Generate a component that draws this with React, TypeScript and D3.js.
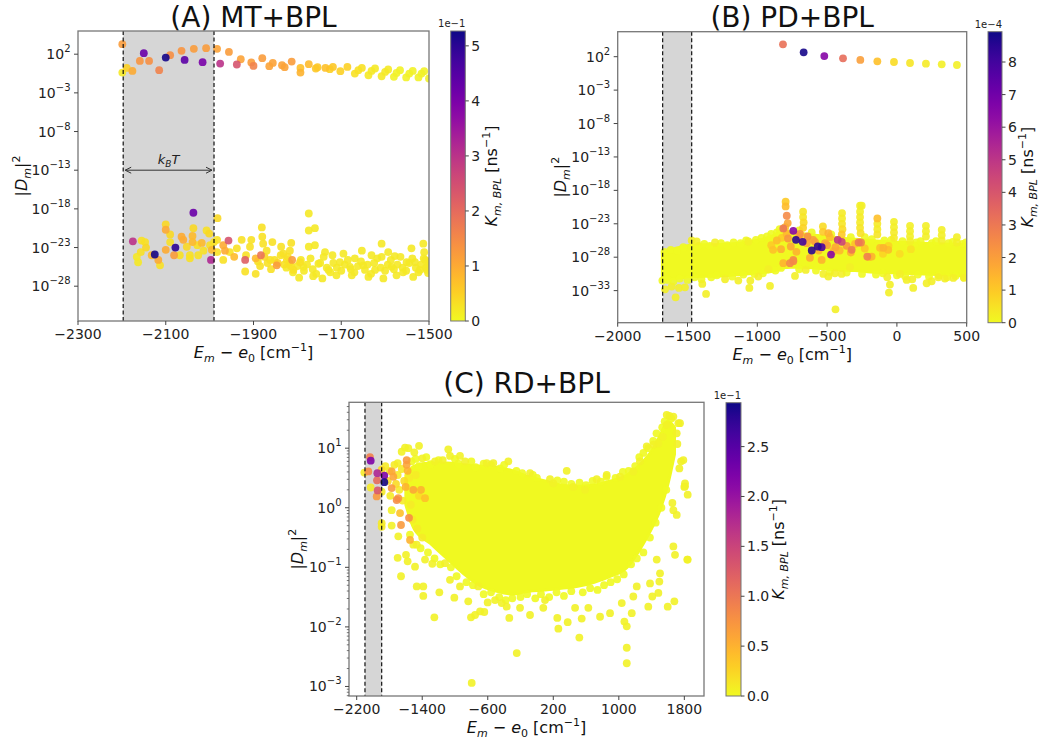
import React from 'react';
import * as d3 from 'd3';

const FONT = 'DejaVu Sans, Verdana, sans-serif';

// every point: [E_m - e0 (cm^-1), log10 |D_m|^2, K_m,BPL in colorbar units]

// (A) MT+BPL, K in 1e-1 ns^-1
const aUpper = [
  [-2199, 3.29, 1.2], [-2199, -0.37, 0.2], [-2189, 0.23, 0.5], [-2176, -0.16, 1.0], [-2150, 2.13, 4.2],
  [-2159, 1.13, 1.3], [-2138, 1.13, 1.4], [-2115, -0.07, 1.6], [-2100, 1.57, 5.2], [-2090, 1.87, 1.4],
  [-2064, 2.43, 1.3], [-2057, 1.26, 4.4], [-2036, 2.69, 1.2], [-2008, 2.78, 1.2], [-2016, 0.97, 4.0],
  [-1983, 2.69, 1.1], [-1976, 0.79, 3.0], [-1956, 2.3, 1.2], [-1938, 0.67, 2.4], [-1929, 1.35, 1.1],
  [-1905, 0.93, 1.2], [-1900, 0.49, 1.6], [-1880, 1.48, 1.2], [-1864, 0.45, 1.1], [-1856, 0.87, 1.1],
  [-1835, 0.58, 1.1], [-1829, 0.32, 1.1], [-1813, 1.05, 1.2], [-1793, 0.23, 0.7], [-1793, -0.37, 0.9],
  [-1774, 0.71, 0.8], [-1758, 0.15, 0.6], [-1754, 0.32, 0.6], [-1736, 0.23, 0.7], [-1726, 0.06, 0.5],
  [-1719, 0.36, 0.6], [-1702, -0.2, 0.5], [-1686, 0.36, 0.5], [-1669, -0.5, 0.3], [-1661, -0.07, 0.3],
  [-1653, 0.23, 0.3], [-1638, -0.72, 0.2], [-1631, -0.16, 0.2], [-1623, 0.15, 0.2], [-1608, -0.85, 0.2],
  [-1600, -0.29, 0.2], [-1593, 0.02, 0.2], [-1580, -0.93, 0.1], [-1574, -0.42, 0.1], [-1566, -0.07, 0.1],
  [-1552, -1.0, 0.1], [-1545, -0.5, 0.1], [-1537, -0.16, 0.1], [-1524, -1.0, 0.1], [-1517, -0.5, 0.1],
  [-1511, -0.2, 0.1], [-1500, -1.14, 0.1],
];

const aLower = [
  [-2175, -22.2, 3.0], [-2166, -24.2, 0.2], [-2163, -24.9, 0.2], [-2155, -22.1, 0.3], [-2147, -22.3, 0.3],
  [-2157, -23.6, 0.3], [-2145, -23.0, 0.4], [-2125, -23.9, 5.2], [-2132, -24.0, 0.8], [-2117, -24.6, 1.0],
  [-2113, -25.3, 0.3], [-2100, -20.0, 0.4], [-2100, -20.7, 1.0], [-2090, -21.3, 0.4], [-2090, -22.3, 0.3],
  [-2100, -23.3, 1.0], [-2081, -24.0, 1.2], [-2078, -23.0, 5.0], [-2068, -24.0, 0.3], [-2064, -21.6, 1.0],
  [-2060, -22.0, 1.0], [-2052, -22.9, 0.4], [-2045, -24.0, 0.3], [-2045, -24.4, 0.3], [-2037, -18.5, 4.2],
  [-2037, -20.5, 0.4], [-2039, -21.5, 0.8], [-2039, -22.3, 0.8], [-2028, -22.7, 0.3], [-2026, -24.0, 0.3],
  [-2018, -22.4, 0.8], [-2014, -23.4, 0.3], [-2007, -20.8, 0.3], [-2001, -21.2, 0.4], [-1999, -22.7, 0.3],
  [-1995, -23.3, 0.8], [-1997, -24.6, 3.2], [-1990, -22.3, 0.3],
  [-1982, -19.2, 0.4], [-1983, -22.0, 0.3], [-1983, -23.6, 0.3], [-1969, -22.7, 1.0], [-1965, -23.4, 1.0],
  [-1957, -22.1, 2.4], [-1969, -24.6, 0.3], [-1954, -23.6, 0.3], [-1944, -24.2, 0.8], [-1938, -23.1, 0.3],
  [-1927, -22.0, 0.3], [-1919, -24.6, 2.2], [-1919, -26.1, 0.3], [-1917, -24.0, 0.3], [-1908, -22.9, 0.3],
  [-1905, -22.0, 0.3], [-1895, -26.4, 0.3], [-1895, -24.4, 0.8], [-1883, -24.0, 1.8], [-1881, -20.4, 0.3],
  [-1880, -21.6, 0.3], [-1878, -22.5, 0.3], [-1870, -23.4, 0.3], [-1862, -24.6, 0.3], [-1857, -22.3, 0.3],
  [-1847, -25.3, 1.2], [-1837, -22.9, 0.3], [-1832, -23.8, 0.3], [-1824, -24.6, 0.3], [-1817, -23.4, 0.3],
  [-1814, -22.4, 0.3], [-1812, -24.6, 1.2], [-1809, -25.9, 0.3], [-1796, -26.9, 0.2], [-1794, -24.9, 0.3],
  [-1786, -25.5, 0.2], [-1774, -18.6, 0.2], [-1774, -20.8, 0.2], [-1774, -22.9, 0.2], [-1760, -20.5, 0.2],
  [-1760, -22.7, 0.2], [-1764, -26.7, 0.2], [-1752, -25.1, 0.2], [-1743, -27.0, 0.2], [-1737, -23.6, 0.2],
  [-1729, -25.9, 0.2], [-1720, -24.0, 0.2], [-1711, -26.6, 0.2], [-1703, -24.9, 0.2], [-1695, -23.8, 0.2],
  [-1680, -25.5, 0.2], [-1676, -26.6, 0.2], [-1669, -24.4, 0.2], [-1653, -23.4, 0.2], [-1650, -25.3, 0.2],
  [-1638, -26.8, 0.2], [-1631, -24.0, 0.2], [-1623, -25.9, 0.2], [-1608, -22.5, 0.2], [-1608, -24.2, 0.2],
  [-1604, -27.0, 0.2], [-1593, -23.6, 0.2], [-1585, -25.5, 0.2], [-1578, -24.1, 0.2], [-1574, -26.6, 0.2],
  [-1559, -26.2, 0.2], [-1551, -24.9, 0.2], [-1540, -23.1, 0.2], [-1536, -26.8, 0.2], [-1532, -24.9, 0.2],
  [-1521, -25.9, 0.2], [-1513, -22.5, 0.2], [-1511, -23.6, 0.2], [-1509, -24.6, 0.2], [-1505, -25.9, 0.2],
  [-1502, -25.3, 0.2],
];

const aLowerDense = [
  [-1890, -24.8, 0.3], [-1885, -25.4, 0.3], [-1875, -24.2, 0.4], [-1868, -25.0, 0.3], [-1860, -25.8, 0.3],
  [-1852, -24.6, 0.3], [-1845, -25.0, 0.5], [-1838, -24.0, 0.3], [-1830, -25.2, 0.3], [-1822, -24.2, 0.3],
  [-1815, -25.4, 0.3], [-1825, -25.6, 0.2], [-1818, -25.0, 0.2], [-1810, -26.2, 0.2], [-1800, -25.4, 0.2],
  [-1792, -24.6, 0.2], [-1785, -26.0, 0.2], [-1778, -25.2, 0.2], [-1770, -24.4, 0.2], [-1765, -25.8, 0.2],
  [-1757, -26.4, 0.2], [-1748, -25.0, 0.2], [-1740, -24.2, 0.2], [-1733, -25.6, 0.2], [-1725, -26.2, 0.2],
  [-1718, -25.0, 0.2], [-1710, -25.6, 0.2], [-1700, -26.0, 0.2], [-1692, -25.2, 0.2], [-1685, -24.6, 0.2],
  [-1678, -25.8, 0.2], [-1670, -26.2, 0.2], [-1662, -25.4, 0.2], [-1655, -24.8, 0.2], [-1646, -25.9, 0.2],
  [-1640, -25.2, 0.2], [-1632, -26.4, 0.2], [-1625, -25.0, 0.2], [-1618, -24.4, 0.2], [-1610, -25.6, 0.2],
  [-1600, -26.0, 0.2], [-1594, -25.2, 0.2], [-1587, -24.6, 0.2], [-1580, -25.8, 0.2], [-1572, -25.2, 0.2],
  [-1565, -24.2, 0.2], [-1560, -25.6, 0.2], [-1552, -26.0, 0.2], [-1545, -25.0, 0.2], [-1538, -24.4, 0.2],
  [-1530, -25.6, 0.2], [-1524, -26.2, 0.2], [-1518, -25.2, 0.2], [-1512, -24.4, 0.2], [-1507, -25.6, 0.2],
  [-1502, -26.3, 0.2], [-1502, -24.8, 0.2],
];

// (B) PD+BPL, K in 1e-4 ns^-1
const bUpper = [
  [-816, 3.85, 3.2], [-668, 2.66, 8.8], [-520, 2.1, 6.5], [-386, 1.76, 3.3], [-262, 1.51, 2.0],
  [-140, 1.31, 1.2], [-21, 1.21, 0.6], [94, 1.06, 0.4], [208, 0.95, 0.3], [321, 0.86, 0.2], [430, 0.76, 0.2],
];

// dense band of the lower manifold: envelope
const bBandX = [-1680, -1600, -1470, -1270, -1030, -890, -815, -760, -670, -550, -430, -300, -190, 50, 285, 500];
const bBandHi = [-27.4, -26.8, -26.2, -26.1, -25.6, -24.8, -24.0, -24.2, -24.5, -24.8, -25.1, -25.3, -25.5, -25.8, -26.0, -26.1];
const bBandLo = [-31.3, -31.2, -30.9, -30.8, -30.4, -30.1, -29.6, -29.5, -29.5, -29.7, -29.9, -30.0, -30.2, -30.4, -30.6, -30.8];

const bLower = [
  [-742, -24.05, 6.5], [-723, -25.4, 8.5], [-675, -25.7, 8.0], [-610, -27.0, 8.5], [-567, -26.4, 8.5],
  [-539, -26.5, 7.8], [-472, -27.6, 6.5], [-424, -25.4, 5.0], [-395, -25.7, 4.5], [-324, -26.9, 3.0],
  [-257, -25.8, 2.8], [-694, -24.5, 2.2], [-646, -25.9, 2.0], [-587, -25.7, 2.0], [-742, -28.4, 2.5],
  [-515, -25.9, 1.8], [-491, -24.4, 1.5], [-181, -27.9, 1.5], [-121, -26.6, 1.2], [-62, -26.9, 1.3],
  [-455, -27.1, 1.4], [-539, -28.4, 1.5], [-623, -28.1, 1.7],
  [-797, -19.7, 1.0], [-797, -20.4, 1.3], [-789, -21.8, 2.5], [-782, -22.9, 1.8], [-800, -23.5, 1.2],
  [-790, -24.5, 1.4], [-742, -28.6, 2.5], [-814, -28.9, 1.5], [-825, -25.1, 1.0], [-887, -26.9, 1.2],
  [-766, -28.9, 2.6], [-814, -23.7, 3.0], [-274, -25.8, 3.0], [-212, -27.9, 2.8], [-140, -22.2, 1.2],
  [-97, -26.6, 1.5],
  [-900, -26.2, 1.0], [-860, -25.5, 1.3], [-830, -26.8, 1.6], [-780, -25.2, 2.2], [-760, -26.4, 1.8],
  [-720, -27.2, 1.5], [-700, -24.8, 1.9], [-640, -24.9, 2.4], [-600, -25.4, 2.0], [-560, -27.0, 1.6],
  [-500, -26.2, 2.0], [-480, -25.0, 1.3], [-440, -26.5, 1.8], [-410, -27.0, 1.4], [-360, -26.3, 2.2],
  [-330, -27.3, 1.6], [-300, -26.0, 1.2], [-230, -26.7, 1.1], [-200, -28.0, 1.0], [-100, -27.5, 0.8],
  [-60, -26.3, 0.8], [20, -27.5, 0.6], [100, -26.8, 0.5],
  // vibronic spikes
  [-672, -21.2, 0.4], [-672, -22.0, 0.4], [-668, -22.8, 0.6], [-672, -23.6, 0.8],
  [-530, -23.4, 0.6], [-530, -24.2, 1.0],
  [-393, -21.4, 0.3], [-393, -22.2, 0.3], [-393, -23.0, 0.4], [-390, -23.8, 0.6], [-395, -24.6, 1.0],
  [-264, -20.3, 0.2], [-264, -21.2, 0.2], [-264, -22.0, 0.3], [-264, -22.8, 0.3], [-264, -23.6, 0.4], [-260, -24.4, 0.5],
  [-140, -23.0, 0.3], [-140, -23.8, 0.3], [-140, -24.6, 0.4],
  [-21, -22.7, 0.2], [-21, -23.5, 0.2], [-21, -24.3, 0.3], [-21, -25.1, 0.3],
  [94, -23.3, 0.2], [94, -24.1, 0.2], [94, -24.9, 0.2], [94, -25.6, 0.2],
  [208, -23.3, 0.2], [208, -24.1, 0.2], [208, -24.9, 0.2],
  [321, -23.9, 0.2], [321, -24.7, 0.2], [321, -25.5, 0.2],
  [430, -25.0, 0.2], [430, -25.8, 0.2],
  // outliers around the band
  [-1470, -25.5, 0.2], [-1434, -25.65, 0.2], [-1303, -25.8, 0.2], [-1064, -25.65, 0.2],
  [-1661, -32.8, 0.2], [-1613, -32.4, 0.2], [-1585, -34.0, 0.2], [-1561, -32.6, 0.2], [-1518, -32.5, 0.2],
  [-1394, -32.0, 0.2], [-1367, -33.5, 0.2], [-1231, -31.3, 0.2], [-1136, -31.5, 0.2], [-1057, -32.6, 0.2],
  [-1050, -31.5, 0.2], [-993, -30.9, 0.2], [-921, -29.8, 0.2], [-909, -32.3, 0.2], [-730, -30.8, 0.2],
  [-653, -29.9, 0.2], [-527, -30.5, 0.2], [-491, -30.9, 0.2], [-444, -30.4, 0.2], [-396, -30.5, 0.2],
  [-336, -29.5, 0.2], [-69, -31.0, 0.2], [-50, -32.1, 0.2], [-57, -33.3, 0.2], [22, -30.5, 0.2],
  [70, -31.4, 0.2], [117, -32.6, 0.2], [110, -31.3, 0.2], [213, -31.9, 0.2], [249, -31.6, 0.2],
  [297, -31.0, 0.2], [344, -31.2, 0.2], [404, -31.1, 0.2], [481, -31.1, 0.2], [-440, -35.8, 0.2],
  [-252, -20.3, 0.2],
];

// bumps along the edges of the band
const bBandEdge = [
  [-1665, -27.2], [-1620, -26.9], [-1575, -27.0], [-1530, -26.5], [-1420, -26.3], [-1380, -26.0],
  [-1340, -26.3], [-1260, -25.9], [-1215, -26.2], [-1170, -25.8], [-1120, -25.9], [-1080, -25.5],
  [-1010, -25.4], [-970, -25.1], [-930, -24.9], [-900, -24.5], [-860, -24.3], [-840, -23.8],
  [-700, -24.0], [-610, -24.3], [-470, -24.6], [-330, -25.0], [-230, -25.0], [-180, -25.3],
  [-90, -25.5], [-40, -25.4], [40, -25.6], [140, -25.8], [170, -25.6], [250, -25.9], [280, -25.6],
  [370, -25.9], [400, -25.7], [470, -26.0], [495, -25.8],
  [-1680, -31.5], [-1640, -31.4], [-1600, -31.6], [-1555, -31.2], [-1500, -31.4], [-1450, -31.0],
  [-1400, -31.3], [-1330, -31.0], [-1290, -30.7], [-1180, -30.9], [-1100, -30.6], [-1020, -30.5],
  [-960, -30.4], [-870, -30.0], [-830, -29.6], [-700, -29.8], [-580, -30.0], [-480, -30.2],
  [-360, -30.3], [-250, -30.5], [-150, -30.6], [-100, -30.4], [0, -30.7], [60, -30.9], [150, -30.6],
  [230, -30.9], [300, -30.7], [360, -31.0], [420, -30.8], [480, -31.0],
];

// (C) RD+BPL, K in 1e-1 ns^-1
const cCloudX = [-1600, -1500, -1300, -1100, -900, -700, -500, -300, -100, 100, 300, 500, 700, 900, 1100, 1300, 1400, 1500, 1600, 1680];
const cCloudHi = [0.55, 0.7, 0.75, 0.75, 0.72, 0.7, 0.68, 0.62, 0.52, 0.45, 0.38, 0.36, 0.38, 0.45, 0.55, 0.78, 0.95, 1.2, 1.45, 1.35];
const cCloudLo = [0.05, -0.35, -0.6, -0.85, -1.1, -1.3, -1.4, -1.45, -1.4, -1.38, -1.35, -1.32, -1.25, -1.15, -1.0, -0.6, -0.35, -0.05, 0.4, 0.9];

const cPoints = [
  [-2038, 0.85, 0.9], [-2029, 0.79, 2.2], [-2107, 0.59, 0.1], [-2058, 0.61, 0.8], [-1948, 0.58, 1.8],
  [-1952, 0.46, 1.1], [-1944, 0.29, 1.3], [-1956, 0.19, 0.7], [-2029, 0.34, 0.1], [-1863, 0.54, 2.2],
  [-1863, 0.43, 2.9], [-1895, 0.64, 0.2], [-1895, 0.27, 0.1], [-1895, -0.26, 0.1], [-1895, -0.32, 0.1],
  [-1773, 0.61, 0.6], [-1753, 0.52, 0.6], [-1773, 0.33, 0.7], [-1712, 0.13, 0.8], [-1692, 0.16, 0.7],
  [-1590, 0.8, 0.7], [-1590, 0.72, 0.6], [-1578, 0.62, 0.5], [-1602, 0.35, 0.5], [-1509, 0.3, 0.6],
  [-1415, 0.3, 0.5], [-1366, 0.16, 0.4], [-1561, -0.17, 0.8], [-1659, -0.29, 0.7], [-1549, -0.54, 0.5],
  [-1671, -0.09, 0.4],
  [-1850, 0.7, 0.1], [-1820, 0.45, 0.2], [-1800, 0.62, 0.1], [-1790, 0.2, 0.1], [-1740, 0.72, 0.1],
  [-1720, 0.4, 0.2], [-1700, 0.55, 0.1], [-1680, 0.3, 0.1], [-1650, 0.65, 0.1], [-1640, 0.12, 0.1],
  [-1620, 0.45, 0.2], [-1560, 0.5, 0.1], [-1540, 0.05, 0.1], [-1520, -0.2, 0.1], [-1480, 0.55, 0.1],
  [-1460, -0.35, 0.1], [-1440, 0.2, 0.2], [-1400, -0.5, 0.1],
  [-1610, 1.01, 0.05], [-1570, 1.0, 0.05], [-1439, 1.04, 0.05], [-1497, 0.93, 0.05], [-1651, 0.94, 0.05],
  [-1700, 0.75, 0.05], [-1399, 0.83, 0.05], [-1244, 0.78, 0.05], [-1150, 0.8, 0.05], [-1082, 0.98, 0.05],
  [-1061, 0.87, 0.05], [-939, 0.87, 0.05], [-877, 0.78, 0.05], [-613, 0.75, 0.05], [-532, 0.75, 0.05],
  [-349, 0.78, 0.05], [-1773, -0.04, 0.05], [-1773, -0.3, 0.05], [-1692, -0.48, 0.05], [-1700, -0.84, 0.05],
  [-1659, -1.15, 0.05], [-1598, -0.79, 0.05], [-1578, -0.9, 0.05], [-1509, -0.62, 0.05], [-1467, -1.32, 0.05],
  [-1387, -1.32, 0.05], [-1387, -1.48, 0.05], [-1467, -0.62, 0.05], [-1488, -0.99, 0.05], [-1366, -0.87, 0.05],
  [-1277, -0.94, 0.05], [-1252, -1.84, 0.05], [-1191, -1.42, 0.05], [-1122, -0.93, 0.05], [-1061, -1.21, 0.05],
  [-1008, -1.51, 0.05], [-939, -1.32, 0.05], [-838, -1.57, 0.05], [-805, -1.84, 0.05], [-755, -1.8, 0.05],
  [-715, -1.32, 0.05], [-694, -1.74, 0.05], [-642, -1.75, 0.05], [-601, -1.59, 0.05], [-511, -1.55, 0.05],
  [-430, -1.6, 0.05], [-369, -1.66, 0.05], [-337, -1.85, 0.05], [-246, -2.44, 0.05], [-206, -1.68, 0.05],
  [-796, -2.94, 0.05],
  [-84, -1.8, 0.05], [78, -1.68, 0.05], [99, -1.55, 0.05], [249, -1.85, 0.05], [262, -2.03, 0.05],
  [376, -1.92, 0.05], [547, -1.86, 0.05], [518, -2.18, 0.05], [466, -1.68, 0.05], [628, -1.68, 0.05],
  [771, -1.83, 0.05], [893, -1.77, 0.05], [1036, -1.6, 0.05], [1068, -1.91, 0.05], [1097, -1.99, 0.05],
  [1097, -2.35, 0.05], [1097, -2.61, 0.05], [1158, -1.77, 0.05], [1177, -1.49, 0.05], [1360, -1.66, 0.05],
  [1409, -1.49, 0.05], [1495, -1.24, 0.05], [1597, -1.66, 0.05], [1678, -1.57, 0.05], [1841, -0.87, 0.05],
  [1686, -0.79, 0.05], [1666, -0.65, 0.05], [1707, -0.12, 0.05], [1666, -0.04, 0.05], [1654, 0.08, 0.05],
  [1841, 0.22, 0.05], [1800, 0.35, 0.05], [1808, 0.41, 0.05], [1760, 0.78, 0.05], [1739, 0.66, 0.05],
  [1715, 1.07, 0.05], [1747, 1.42, 0.05], [1707, 1.25, 0.05], [1617, 1.54, 0.05], [1666, 1.53, 0.05],
  [1585, 1.39, 0.05], [1536, 1.19, 0.05], [1483, 1.08, 0.05], [1422, 1.06, 0.05], [1341, 1.03, 0.05],
  [1258, 0.78, 0.05], [1177, 0.61, 0.05], [1015, 0.52, 0.05], [852, 0.55, 0.05], [730, 0.48, 0.05],
  [364, 0.62, 0.05], [160, 0.48, 0.05], [-84, 0.58, 0.05], [445, 0.35, 0.05], [588, 0.3, 0.05],
  [201, 0.41, 0.05], [1463, -0.87, 0.05], [1503, -1.1, 0.05], [1483, -1.43, 0.05], [1381, -1.27, 0.05],
  [1219, -1.32, 0.05], [1585, 1.56, 0.05], [1727, 1.42, 0.05], [1788, 0.8, 0.05], [1808, 0.36, 0.05],
  [1836, -0.87, 0.05],
];

// bumps along the edges of the cloud
const cCloudEdge = [
  [-1530, 0.78], [-1480, 0.82], [-1440, 0.7], [-1350, 0.85], [-1300, 0.73], [-1200, 0.8], [-1000, 0.82],
  [-960, 0.74], [-800, 0.78], [-750, 0.68], [-650, 0.74], [-560, 0.72], [-450, 0.66], [-400, 0.72],
  [-250, 0.62], [-180, 0.58], [-50, 0.55], [0, 0.5], [250, 0.46], [330, 0.44], [420, 0.4], [520, 0.42],
  [600, 0.38], [680, 0.45], [780, 0.44], [850, 0.52], [960, 0.5], [1050, 0.6], [1120, 0.62], [1200, 0.7],
  [1250, 0.85], [1300, 0.92], [1360, 1.0], [1420, 1.12], [1460, 1.25], [1530, 1.35], [1560, 1.45], [1640, 1.5],
  [-1550, -0.45], [-1420, -0.68], [-1330, -0.75], [-1250, -0.85], [-1180, -0.95], [-1050, -1.0],
  [-980, -1.15], [-860, -1.25], [-780, -1.3], [-650, -1.45], [-560, -1.42], [-460, -1.5], [-380, -1.55],
  [-300, -1.52], [-200, -1.5], [-120, -1.45], [-20, -1.52], [50, -1.45], [150, -1.5], [240, -1.42],
  [330, -1.48], [420, -1.4], [560, -1.42], [650, -1.35], [740, -1.38], [820, -1.3], [900, -1.25],
  [980, -1.2], [1060, -1.12], [1150, -0.95], [1220, -0.85], [1300, -0.75], [1380, -0.5], [1450, -0.25],
  [1520, 0.0], [1580, 0.3],
];

// ticks
const aXTicks = [-2300, -2100, -1900, -1700, -1500];
const aYTicks = [2, -3, -8, -13, -18, -23, -28];
const bXTicks = [-2000, -1500, -1000, -500, 0, 500];
const bYTicks = [2, -3, -8, -13, -18, -23, -28, -33];
const cXTicks = [-2200, -1400, -600, 200, 1000, 1800];
const cYTicks = [1, 0, -1, -2, -3];
const aCbTicks = [0, 1, 2, 3, 4, 5];
const bCbTicks = [0, 1, 2, 3, 4, 5, 6, 7, 8];
const cCbTicks = [0, 0.5, 1, 1.5, 2, 2.5];

const minus = (s: string) => s.replace('-', '\u2212');

function XLabel({ x, y }: { x: number; y: number }) {
  return (
    <text x={x} y={y} textAnchor="middle" fontSize={16} fontFamily={FONT} fill="#111">
      <tspan fontStyle="italic">E</tspan>
      <tspan fontStyle="italic" fontSize={11} dy={4}>m</tspan>
      <tspan dy={-4}>{' \u2212 '}</tspan>
      <tspan fontStyle="italic">e</tspan>
      <tspan fontSize={11} dy={4}>0</tspan>
      <tspan dy={-4}>{' [cm'}</tspan>
      <tspan fontSize={11} dy={-7}>{'\u22121'}</tspan>
      <tspan dy={7}>]</tspan>
    </text>
  );
}

function YLabel({ x, y }: { x: number; y: number }) {
  return (
    <text transform={`translate(${x},${y}) rotate(-90)`} textAnchor="middle" fontSize={16} fontFamily={FONT} fill="#111">
      <tspan>|</tspan>
      <tspan fontStyle="italic">D</tspan>
      <tspan fontStyle="italic" fontSize={11} dy={4}>m</tspan>
      <tspan dy={-4}>|</tspan>
      <tspan fontSize={11} dy={-7}>2</tspan>
    </text>
  );
}

function KLabel({ x, y }: { x: number; y: number }) {
  return (
    <text transform={`translate(${x},${y}) rotate(-90)`} textAnchor="middle" fontSize={16} fontFamily={FONT} fill="#111">
      <tspan fontStyle="italic">K</tspan>
      <tspan fontStyle="italic" fontSize={11} dy={4}>m, BPL</tspan>
      <tspan dy={-4}>{' [ns'}</tspan>
      <tspan fontSize={11} dy={-7}>{'\u22121'}</tspan>
      <tspan dy={7}>]</tspan>
    </text>
  );
}

type Panel = {
  id: string;
  title: string;
  titleY: number;
  L: number; R: number; T: number; B: number;
  xd: number[]; yd: number[];
  xt: number[]; yt: number[];
  minor?: boolean;
  shade: number[];
  bandX?: number[]; bandHi?: number[]; bandLo?: number[];
  pts: number[][];
  edge?: number[][];
  cmax: number;
  cb: number[];
  cbTicks: number[];
  cbFmt: (v: number) => string;
  cbOffset: string;
  ylabX: number; klabX: number;
  arrow?: boolean;
};

function ScatterPanel(p: Panel) {
  const x = d3.scaleLinear().domain(p.xd).range([p.L, p.R]);
  const y = d3.scaleLog().domain([10 ** p.yd[0], 10 ** p.yd[1]]).range([p.B, p.T]);
  const color = d3.scaleSequential((t: number) => d3.interpolatePlasma(1 - t)).domain([0, p.cmax]);
  const [cbL, cbR, cbT, cbB] = p.cb;
  const cy = d3.scaleLinear().domain([0, p.cmax]).range([cbB, cbT]);
  const cx = (p.L + p.R) / 2;
  const pts = [...(p.edge || []).map((d) => [d[0], d[1], 0]), ...p.pts].sort((a, b) => a[2] - b[2]);

  let band: string | null = null;
  if (p.bandX && p.bandHi && p.bandLo) {
    const rows = p.bandX.map((v, i) => [v, p.bandHi![i], p.bandLo![i]]);
    band = d3
      .area<number[]>()
      .x((d) => x(d[0]))
      .y0((d) => y(10 ** d[2]))
      .y1((d) => y(10 ** d[1]))
      .curve(d3.curveMonotoneX)(rows);
  }

  const minorTicks: number[] = [];
  if (p.minor) {
    for (let e = Math.floor(p.yd[0]); e <= Math.ceil(p.yd[1]); e++) {
      for (let m = 2; m <= 9; m++) {
        const v = m * 10 ** e;
        if (v >= 10 ** p.yd[0] && v <= 10 ** p.yd[1]) minorTicks.push(v);
      }
    }
  }

  const stops = d3.range(0, 1.0001, 0.05);
  const arrowY = y(1e-13);
  const ax0 = x(p.shade[0]) + 2;
  const ax1 = x(p.shade[1]) - 2;

  return (
    <g>
      <defs>
        <clipPath id={`clip-${p.id}`}>
          <rect x={p.L} y={p.T} width={p.R - p.L} height={p.B - p.T} />
        </clipPath>
        <linearGradient id={`grad-${p.id}`} x1="0" y1="1" x2="0" y2="0">
          {stops.map((t) => (
            <stop key={t} offset={t} stopColor={d3.interpolatePlasma(1 - t)} />
          ))}
        </linearGradient>
      </defs>

      <text x={cx} y={p.titleY} textAnchor="middle" fontSize={28} fontFamily={FONT} fill="#111">
        {p.title}
      </text>

      <rect x={p.L} y={p.T} width={p.R - p.L} height={p.B - p.T} fill="#fff" />
      <rect x={x(p.shade[0])} y={p.T} width={x(p.shade[1]) - x(p.shade[0])} height={p.B - p.T} fill="#d6d6d6" />

      <g clipPath={`url(#clip-${p.id})`}>
        {band && <path d={band} fill={color(0)} stroke={color(0)} strokeWidth={3} strokeLinejoin="round" />}
        {pts.map((d, i) => (
          <circle key={i} cx={x(d[0])} cy={y(10 ** d[1])} r={3.9} fill={color(d[2])} fillOpacity={0.9} />
        ))}
      </g>

      {p.shade.map((v) => (
        <line key={v} x1={x(v)} x2={x(v)} y1={p.T} y2={p.B} stroke="#111" strokeWidth={1.2} strokeDasharray="4 2.5" />
      ))}

      {p.arrow && (
        <g stroke="#333" strokeWidth={1} fill="none">
          <line x1={ax0} x2={ax1} y1={arrowY} y2={arrowY} />
          <path d={`M${ax0 + 6},${arrowY - 3} L${ax0},${arrowY} L${ax0 + 6},${arrowY + 3}`} />
          <path d={`M${ax1 - 6},${arrowY - 3} L${ax1},${arrowY} L${ax1 - 6},${arrowY + 3}`} />
        </g>
      )}
      {p.arrow && (
        <text x={(ax0 + ax1) / 2} y={arrowY - 6} textAnchor="middle" fontSize={13} fontFamily={FONT} fill="#222">
          <tspan fontStyle="italic">k</tspan>
          <tspan fontStyle="italic" fontSize={9} dy={3}>B</tspan>
          <tspan fontStyle="italic" dy={-3}>T</tspan>
        </text>
      )}

      <rect x={p.L} y={p.T} width={p.R - p.L} height={p.B - p.T} fill="none" stroke="#777" strokeWidth={1.3} />

      {p.xt.map((v) => (
        <g key={v}>
          <line x1={x(v)} x2={x(v)} y1={p.B} y2={p.B + 4} stroke="#444" />
          <text x={x(v)} y={p.B + 18} textAnchor="middle" fontSize={14} fontFamily={FONT} fill="#222">
            {minus(String(v))}
          </text>
        </g>
      ))}
      {minorTicks.map((v) => (
        <line key={v} x1={p.L - 2.2} x2={p.L} y1={y(v)} y2={y(v)} stroke="#555" strokeWidth={0.8} />
      ))}
      {p.yt.map((e) => (
        <g key={e}>
          <line x1={p.L - 4} x2={p.L} y1={y(10 ** e)} y2={y(10 ** e)} stroke="#444" />
          <text x={p.L - 7.5} y={y(10 ** e) + 5} textAnchor="end" fontSize={14} fontFamily={FONT} fill="#222">
            10
            <tspan fontSize={10} dy={-7}>{minus(String(e))}</tspan>
          </text>
        </g>
      ))}

      <XLabel x={cx} y={p.B + 37} />
      <YLabel x={p.ylabX} y={(p.T + p.B) / 2} />

      <rect x={cbL} y={cbT} width={cbR - cbL} height={cbB - cbT} fill={`url(#grad-${p.id})`} stroke="#777" strokeWidth={1} />
      {p.cbTicks.map((v) => (
        <g key={v}>
          <line x1={cbR} x2={cbR + 3.5} y1={cy(v)} y2={cy(v)} stroke="#444" />
          <text x={cbR + 6} y={cy(v) + 5} fontSize={14} fontFamily={FONT} fill="#222">
            {p.cbFmt(v)}
          </text>
        </g>
      ))}
      <text x={cbR} y={cbT - 4} textAnchor="end" fontSize={10} fontFamily={FONT} fill="#222">
        {p.cbOffset}
      </text>
      <KLabel x={p.klabX} y={(cbT + cbB) / 2} />
    </g>
  );
}

export default function App() {
  return (
    <div style={{ position: 'absolute', left: 0, top: 0 }}>
      <svg width={1048} height={746} style={{ display: 'block', background: '#fff' }}>
        <ScatterPanel
          id="a"
          title="(A) MT+BPL"
          titleY={27}
          L={78} R={429} T={31} B={321}
          xd={[-2300, -1500]} yd={[-32.5, 5.0]}
          xt={aXTicks} yt={aYTicks}
          shade={[-2197, -1990]}
          pts={[...aUpper, ...aLower, ...aLowerDense]}
          cmax={5.27}
          cb={[450.7, 465.3, 31, 321]}
          cbTicks={aCbTicks}
          cbFmt={(v) => String(v)}
          cbOffset={'1e\u22121'}
          ylabX={27}
          klabX={497}
          arrow
        />
        <ScatterPanel
          id="b"
          title="(B) PD+BPL"
          titleY={27}
          L={617.7} R={966.7} T={31.7} B={322.7}
          xd={[-2000, 500]} yd={[-37.8, 5.74]}
          xt={bXTicks} yt={bYTicks}
          shade={[-1678, -1470]}
          bandX={bBandX} bandHi={bBandHi} bandLo={bBandLo}
          pts={[...bUpper, ...bLower]}
          edge={bBandEdge}
          cmax={8.93}
          cb={[988, 1002, 31.7, 322.7]}
          cbTicks={bCbTicks}
          cbFmt={(v) => String(v)}
          cbOffset={'1e\u22124'}
          ylabX={566}
          klabX={1033}
        />
        <ScatterPanel
          id="c"
          title="(C) RD+BPL"
          titleY={393}
          L={349} R={704} T={402.3} B={696}
          xd={[-2294, 2040]} yd={[-3.16, 1.77]}
          xt={cXTicks} yt={cYTicks}
          minor
          shade={[-2099, -1895]}
          bandX={cCloudX} bandHi={cCloudHi} bandLo={cCloudLo}
          pts={cPoints}
          edge={cCloudEdge}
          cmax={2.94}
          cb={[726, 741, 402.7, 696]}
          cbTicks={cCbTicks}
          cbFmt={(v) => v.toFixed(1)}
          cbOffset={'1e\u22121'}
          ylabX={303}
          klabX={784}
        />
      </svg>
    </div>
  );
}
